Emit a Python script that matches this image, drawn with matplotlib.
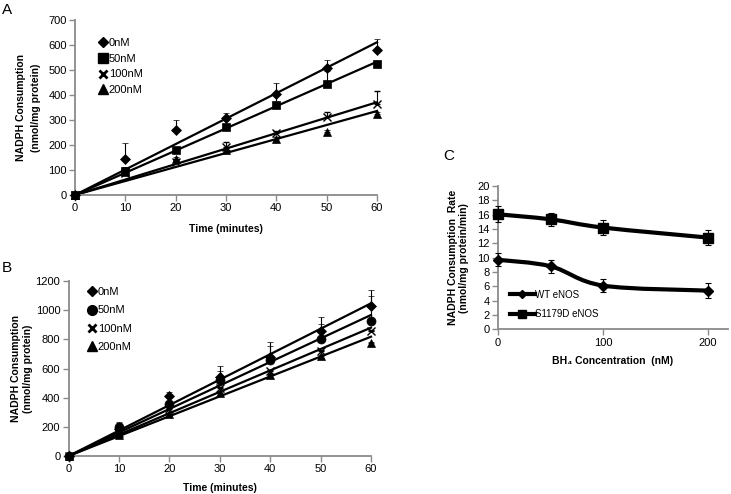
import numpy as np
import matplotlib
matplotlib.use('Agg')
import matplotlib.pyplot as plt
from matplotlib.lines import Line2D
from matplotlib.path import Path
from matplotlib.patches import PathPatch

plt.rcParams['font.family'] = ['Liberation Sans', 'DejaVu Sans']
plt.rcParams['font.size'] = 8

# ---- panel A / B: time course ----
time = [0, 10, 20, 30, 40, 50, 60]
labels = ['0nM', '50nM', '100nM', '200nM']

a_vals = [[0, 145, 258, 308, 404, 506, 580],
          [0, 97, 180, 270, 358, 442, 525],
          [0, 88, 130, 190, 248, 313, 365],
          [0, 92, 143, 178, 222, 253, 324]]
a_err = [[0, 62, 40, 18, 45, 32, 42],
         [0, 15, 12, 10, 40, 55, 10],
         [0, 10, 10, 22, 8, 20, 50],
         [0, 8, 10, 8, 8, 8, 8]]
a_trend_end = [611, 533, 371, 336]   # trendline value at 60 min

b_vals = [[0, 185, 410, 545, 680, 860, 1030],
          [0, 200, 355, 520, 658, 802, 925],
          [0, 160, 320, 466, 583, 720, 855],
          [0, 145, 290, 430, 553, 686, 773]]
b_err = [[0, 45, 30, 75, 100, 95, 105],
         [0, 25, 20, 65, 95, 100, 175],
         [0, 10, 10, 10, 10, 10, 10],
         [0, 8, 8, 8, 8, 8, 8]]
b_trend_end = [1047, 967, 880, 818]

# ---- panel C: rate vs BH4 ----
conc = [0, 50, 100, 200]
wt = [9.7, 8.8, 6.1, 5.4]
wt_err = [0.9, 0.9, 0.9, 1.0]
s1179d = [16.05, 15.35, 14.2, 12.8]
s1179d_err = [1.1, 0.9, 1.0, 1.1]

GRAY = '#8a8a8a'
W, H = 731, 494


def ax_at(x0, x1, y_top, y_bot):
    return fig.add_axes([x0 / W, 1 - y_bot / H, (x1 - x0) / W, (y_bot - y_top) / H])


def excel_style(ax):
    for s in ['top', 'right']:
        ax.spines[s].set_visible(False)
    for s in ['left', 'bottom']:
        ax.spines[s].set_color(GRAY)
        ax.spines[s].set_linewidth(1.3)
    ax.tick_params(direction='out', length=4, width=1, color=GRAY, labelsize=8, pad=2)


def time_panel(ax, vals, errs, ends, markers, sizes, ymax, ystep, xpad):
    for v, e, end, m, ms in zip(vals, errs, ends, markers, sizes):
        ax.plot([0, 60], [0, end], color='k', lw=1.6, zorder=2, clip_on=False)
        mew = 1.0 if m == 'x' else 0.5
        ax.errorbar(time, v, yerr=[np.zeros(len(e)), e], fmt=m, color='k', ms=ms, mew=mew,
                    ecolor='k', elinewidth=0.8, capsize=2.5, capthick=0.8, zorder=3,
                    clip_on=False)
    ax.set_xlim(0, 60)
    ax.set_ylim(0, ymax)
    ax.set_xticks(range(0, 61, 10))
    ax.set_yticks(range(0, ymax + 1, ystep))
    ax.set_xlabel('Time (minutes)', fontsize=7.5, fontweight='bold', labelpad=xpad)
    excel_style(ax)


def smooth_path(xs, ys):
    # Excel-like smoothed line: Catmull-Rom segments as cubic Beziers
    p = np.column_stack([xs, ys]).astype(float)
    ext = np.vstack([p[0], p, p[-1]])
    verts = [p[0]]
    codes = [Path.MOVETO]
    for i in range(1, len(ext) - 2):
        c1 = ext[i] + (ext[i + 1] - ext[i - 1]) / 6
        c2 = ext[i + 1] - (ext[i + 2] - ext[i]) / 6
        verts += [c1, c2, ext[i + 1]]
        codes += [Path.CURVE4] * 3
    return Path(verts, codes)


fig = plt.figure(figsize=(W / 100, H / 100), dpi=100)

# panel A
axA = ax_at(75, 377, 20, 195)
time_panel(axA, a_vals, a_err, a_trend_end, ['D', 's', 'x', '^'], [5, 5.5, 6, 6], 700, 100, 8)
axA.set_ylabel('NADPH Consumption\n(nmol/mg protein)', fontsize=7.5, fontweight='bold',
               labelpad=5, linespacing=1.6)
hA = [Line2D([], [], ls='none', marker='D', color='k', ms=5.5),
      Line2D([], [], ls='none', marker='s', color='k', ms=7),
      Line2D([], [], ls='none', marker='x', color='k', ms=6, mew=2),
      Line2D([], [], ls='none', marker='^', color='k', ms=7)]
axA.legend(hA, labels, loc='upper left', bbox_to_anchor=(0.08, 0.895), frameon=False,
           fontsize=8, handlelength=0.7, handletextpad=0.15, labelspacing=0.5,
           borderpad=0, borderaxespad=0)

# panel B
axB = ax_at(68.6, 371, 281, 456)
time_panel(axB, b_vals, b_err, b_trend_end, ['D', 'o', 'x', '^'], [5, 6.5, 6, 6], 1200, 200, 6)
axB.set_ylabel('NADPH Consumption\n(nmol/mg protein)', fontsize=7.5, fontweight='bold',
               labelpad=2, linespacing=1.2)
hB = [Line2D([], [], ls='none', marker='D', color='k', ms=5.5),
      Line2D([], [], ls='none', marker='o', color='k', ms=7),
      Line2D([], [], ls='none', marker='x', color='k', ms=6, mew=2),
      Line2D([], [], ls='none', marker='^', color='k', ms=7)]
axB.legend(hB, labels, loc='upper left', bbox_to_anchor=(0.065, 0.965), frameon=False,
           fontsize=8, handlelength=0.7, handletextpad=0.15, labelspacing=0.75,
           borderpad=0, borderaxespad=0)

# panel C
axC = ax_at(498, 728, 186, 329.3)
for v, e, m, ms in [(wt, wt_err, 'D', 5), (s1179d, s1179d_err, 's', 7)]:
    axC.add_patch(PathPatch(smooth_path(conc, v), fill=False, lw=3, color='k',
                            capstyle='round', zorder=2))
    axC.errorbar(conc, v, yerr=e, fmt=m, color='k', ms=ms, ecolor='k', elinewidth=0.8,
                 capsize=2.5, capthick=0.8, zorder=3, clip_on=False)
axC.set_xlim(0, 219)
axC.set_ylim(0, 20)
axC.set_xticks([0, 100, 200])
axC.set_yticks(range(0, 21, 2))
axC.set_xlabel('BH\u2084 Concentration  (nM)', fontsize=7.5, fontweight='bold', labelpad=6)
axC.set_ylabel('NADPH Consumption  Rate\n(nmol/mg protein/min)', fontsize=7.5,
               fontweight='bold', labelpad=6, linespacing=1.1)
excel_style(axC)
hC = [Line2D([], [], color='k', lw=3, marker='D', ms=4),
      Line2D([], [], color='k', lw=3, marker='s', ms=6)]
axC.legend(hC, ['WT eNOS', 'S1179D eNOS'], loc='lower left', bbox_to_anchor=(0.05, 0.07),
           frameon=False, fontsize=7, handlelength=2.6, handletextpad=0.0,
           labelspacing=1.0, borderpad=0, borderaxespad=0)

fig.text(2 / W, 1 - 3 / H, 'A', fontsize=11, va='top', ha='left')
fig.text(2 / W, 1 - 261 / H, 'B', fontsize=11, va='top', ha='left')
fig.text(443 / W, 1 - 149 / H, 'C', fontsize=11, va='top', ha='left')

fig.savefig('out.png', dpi=100)
